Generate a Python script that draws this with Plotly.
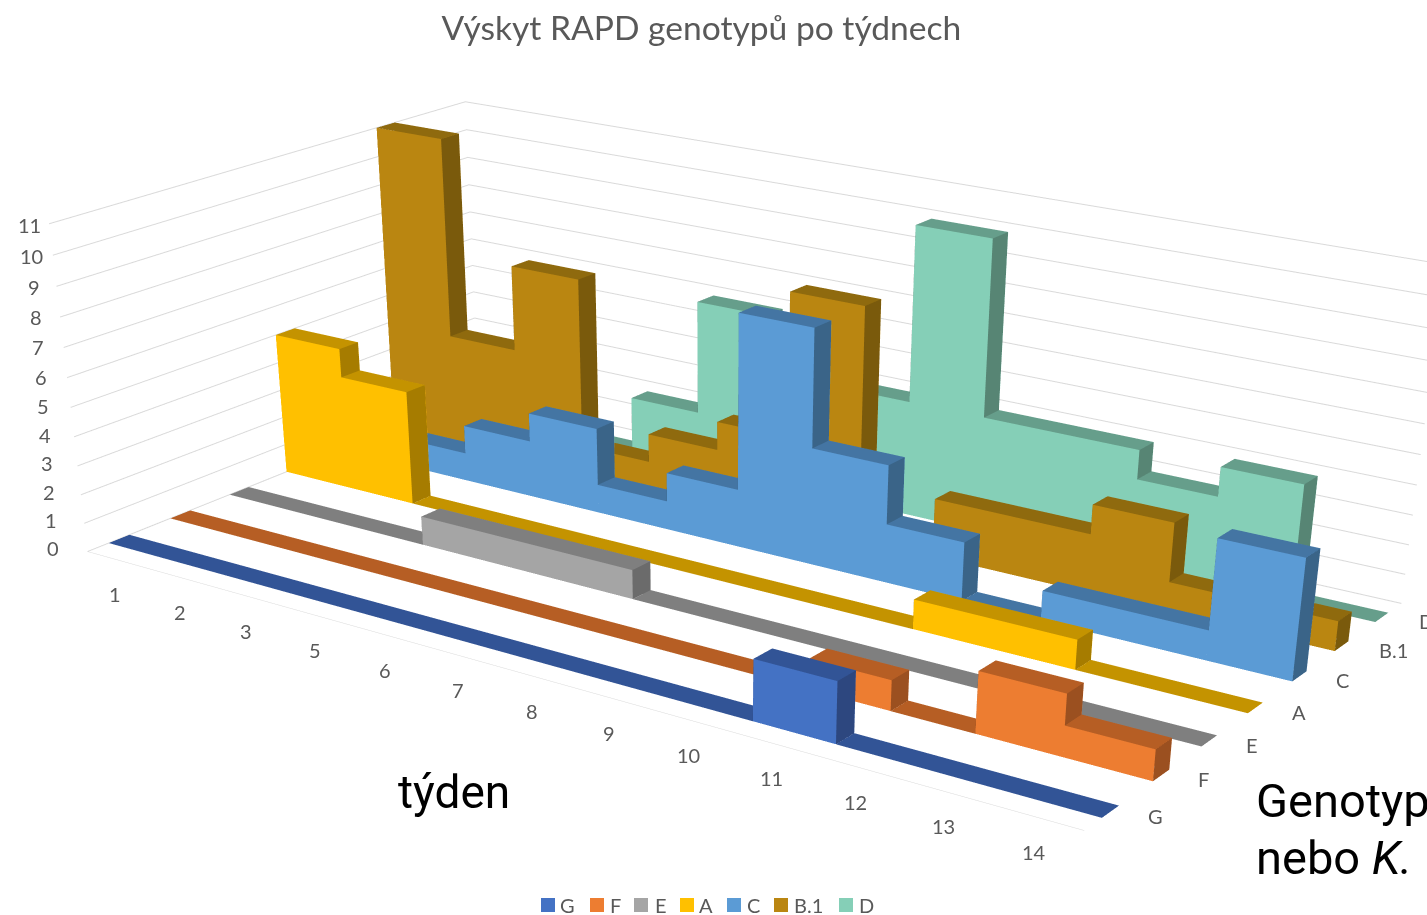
import plotly.graph_objects as go

weeks = ["1", "2", "3", "5", "6", "7", "8", "9", "10", "11", "12", "13", "14"]
series = ["G", "F", "E", "A", "C", "B.1", "D"]
counts = list(range(12))

G = [0, 0, 0, 0, 0, 0, 0, 0, 0, 2, 0, 0, 0]
F = [0, 0, 0, 0, 0, 0, 0, 0, 0, 1, 0, 2, 1]
E = [0, 0, 0, 1, 1, 1, 0, 0, 0, 0, 0, 0, 0]
A = [5, 4, 0, 0, 0, 0, 0, 0, 0, 1, 1, 0, 0]
C = [0, 1, 2, 3, 1, 2, 8, 4, 2, 0, 1, 1, 4]
B1 = [11, 4, 7, 1, 2, 3, 8, 0, 2, 2, 3, 1, 1]
D = [0, 0, 0, 2, 6, 3, 4, 10, 4, 4, 3, 4, 0]
values = [G, F, E, A, C, B1, D]

front = ["#4472C4", "#ED7D31", "#A5A5A5", "#FFC000", "#5B9BD5", "#BA8611", "#85CFB7"]
top = ["#325496", "#B65E24", "#7F7F7F", "#C49300", "#4475A3", "#8F6A0E", "#669E8B"]
side = ["#2D477F", "#9B5020", "#6B6B6B", "#A67C00", "#3A6488", "#7A5A0C", "#578574"]

legend_square_px = [541, 590, 634, 680, 727, 774, 839]
legend_text_px = [560, 610, 655, 699, 747, 794, 859]

THICK = 0.33
FIG_W, FIG_H = 1427, 2500
fig = go.Figure()


def add_quad(P, I, J, K, C_, q, col):
    n = len(P)
    P.extend(q)
    I.extend([n, n])
    J.extend([n + 1, n + 2])
    K.extend([n + 2, n + 3])
    C_.extend([col, col])


for s, vals in enumerate(values):
    y0, y1 = s - THICK / 2, s + THICK / 2
    P, I, J, K, Cc = [], [], [], [], []
    n = len(vals)
    for k, v in enumerate(vals):
        x0, x1 = k, k + 1
        add_quad(P, I, J, K, Cc, [(x0, y0, 0), (x1, y0, 0), (x1, y0, v), (x0, y0, v)], front[s])
        add_quad(P, I, J, K, Cc, [(x0, y1, 0), (x1, y1, 0), (x1, y1, v), (x0, y1, v)], front[s])
        add_quad(P, I, J, K, Cc, [(x0, y0, v), (x1, y0, v), (x1, y1, v), (x0, y1, v)], top[s])
        nxt = vals[k + 1] if k + 1 < n else 0
        if nxt != v:
            add_quad(P, I, J, K, Cc, [(x1, y0, v), (x1, y1, v), (x1, y1, nxt), (x1, y0, nxt)], side[s])
    fig.add_trace(go.Mesh3d(
        x=[p[0] for p in P], y=[p[1] for p in P], z=[p[2] for p in P],
        i=I, j=J, k=K, facecolor=Cc, flatshading=True,
        lighting=dict(ambient=1, diffuse=0, specular=0, fresnel=0, roughness=1),
        hoverinfo="skip", showlegend=False, name=series[s]))

label_font = dict(family="Lato", size=20, color="#595959")
XMAX, YMIN = len(weeks), -0.5


def py(px):
    return 1 - px / FIG_H


scene_labels = []
for k, w in enumerate(weeks):
    scene_labels.append(dict(x=k + 0.5, y=YMIN, z=0, text=w, showarrow=False, font=label_font,
                             xanchor="center", yanchor="middle", xshift=-4, yshift=-34))
for s, name in enumerate(series):
    scene_labels.append(dict(x=XMAX, y=s, z=0, text=name, showarrow=False, font=label_font,
                             xanchor="left", yanchor="middle", xshift=35, yshift=-4))
for c in counts:
    scene_labels.append(dict(x=0, y=YMIN, z=c, text=str(c), showarrow=False, font=label_font,
                             xanchor="center", yanchor="middle",
                             xshift=-35 + 1.4 * c, yshift=4 - 0.5 * c))

annotations = [
    dict(text="týden", xref="paper", yref="paper", x=396 / FIG_W, y=py(792),
         xanchor="left", yanchor="middle", showarrow=False,
         font=dict(family="Roboto", size=46, color="black")),
    dict(text="Genotyp", xref="paper", yref="paper", x=1254 / FIG_W, y=py(800),
         xanchor="left", yanchor="middle", showarrow=False,
         font=dict(family="Roboto", size=47, color="black")),
    dict(text="nebo <i>K.</i>", xref="paper", yref="paper", x=1254 / FIG_W, y=py(857),
         xanchor="left", yanchor="middle", showarrow=False,
         font=dict(family="Roboto", size=47, color="black")),
]
shapes = []
for name, col, sx, tx in zip(series, front, legend_square_px, legend_text_px):
    shapes.append(dict(type="rect", xref="paper", yref="paper", x0=sx / FIG_W, x1=(sx + 14) / FIG_W,
                       y0=py(912), y1=py(898), fillcolor=col, line=dict(width=0)))
    annotations.append(dict(text=name, xref="paper", yref="paper", x=tx / FIG_W, y=py(905),
                            xanchor="left", yanchor="middle", showarrow=False, xshift=-2,
                            font=dict(family="Lato", size=20, color="#595959")))

hidden_axis = dict(title="", showticklabels=False, showgrid=False, showbackground=False,
                   zeroline=False, ticks="", showspikes=False)

fig.update_layout(
    width=FIG_W, height=FIG_H, margin=dict(l=0, r=0, t=0, b=0),
    paper_bgcolor="white", showlegend=False,
    font=dict(family="Lato", color="#595959"),
    title=dict(text="Výskyt RAPD genotypů po týdnech", x=0.4915, xanchor="center",
               y=py(28), yanchor="middle", yref="container",
               font=dict(family="Lato", size=33.6, color="#595959")),
    scene=dict(
        domain=dict(x=[0, 1], y=[0, 1]),
        aspectmode="manual", aspectratio=dict(x=1.0, y=0.548, z=0.282),
        camera=dict(eye=dict(x=1.4234, y=-2.0575, z=0.7912),
                    center=dict(x=0.2196, y=-0.3400, z=-0.5713),
                    up=dict(x=0, y=0, z=1),
                    projection=dict(type="perspective")),
        xaxis=dict(range=[0, XMAX], showline=True, linecolor="#d9d9d9", **hidden_axis),
        yaxis=dict(range=[YMIN, 6.5], showline=False, **hidden_axis),
        zaxis=dict(title="", range=[0, 11], tickmode="array", tickvals=counts,
                   showticklabels=False, showgrid=True, gridcolor="#d9d9d9", gridwidth=2,
                   showbackground=False, zeroline=False, showline=False, ticks="",
                   showspikes=False),
        annotations=scene_labels,
    ),
    annotations=annotations,
    shapes=shapes,
)

fig.write_html("out.html", config=dict(displayModeBar=False),
               post_script="document.documentElement.style.overflow='hidden';document.body.style.overflow='hidden';document.body.style.margin='0';")
